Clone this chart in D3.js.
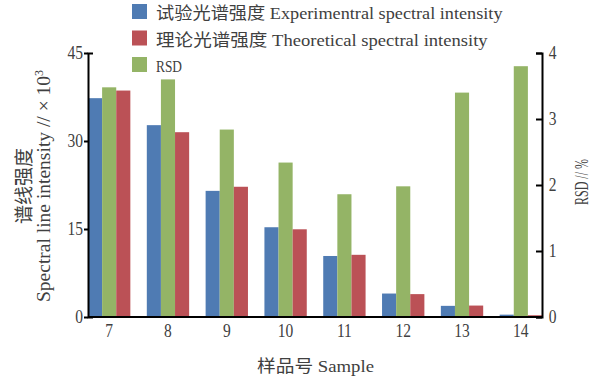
<!DOCTYPE html>
<html>
<head>
<meta charset="utf-8">
<script src="https://cdn.jsdelivr.net/npm/d3@7"></script>
<style>
  body { margin: 0; background: #fff; }
  svg { display: block; }
</style>
</head>
<body>
<svg id="chart" width="600" height="377"></svg>
<script>
// Sample numbers on the x axis
const samples = ["7", "8", "9", "10", "11", "12", "13", "14"];
// Spectral line intensity, ×10^3
const experimental = [37.3, 32.7, 21.5, 15.3, 10.4, 4.0, 1.9, 0.4];
const theoretical  = [38.6, 31.5, 22.2, 14.95, 10.6, 3.9, 1.95, 0.3];
// Relative standard deviation, %
const rsd = [3.48, 3.60, 2.84, 2.34, 1.86, 1.98, 3.40, 3.80];
// Axis ticks
const leftTicks = [0, 15, 30, 45];
const rightTicks = [0, 1, 2, 3, 4];
// Legend entries (legend order) and bar order within a group
const legendLabels = [
  "试验光谱强度 Experimentral spectral intensity",
  "理论光谱强度 Theoretical spectral intensity",
  "RSD"
];
const legendKeys = ["exp", "theo", "rsd"];
const groupOrder = ["exp", "rsd", "theo"];

const colors = { exp: "#4f7bb3", theo: "#bb5156", rsd: "#94b466" };
const FONT = '"Liberation Serif", "Noto Sans CJK SC", serif';
const TEXT = "#404040";

const svg = d3.select("#chart");

const x = d3.scaleBand().domain(samples).range([88, 542]).paddingInner(0.28).paddingOuter(0);
const inner = d3.scaleBand().domain(groupOrder).range([0, x.bandwidth()]).padding(0);
const yL = d3.scaleLinear().domain([0, 45]).range([317, 53]);
const yR = d3.scaleLinear().domain([0, 4]).range([317, 53]);

// Flatten into bar records
const bars = [];
samples.forEach((s, i) => {
  bars.push({ s, key: "exp", v: experimental[i], y: yL });
  bars.push({ s, key: "rsd", v: rsd[i], y: yR });
  bars.push({ s, key: "theo", v: theoretical[i], y: yL });
});

svg.append("g").selectAll("rect").data(bars).join("rect")
  .attr("x", d => x(d.s) + inner(d.key))
  .attr("width", inner.bandwidth())
  .attr("y", d => d.y(d.v))
  .attr("height", d => d.y(0) - d.y(d.v))
  .attr("fill", d => colors[d.key]);

// Monospace-style width: full-width CJK, half-width Latin
function monoWidth(str, em) {
  let w = 0;
  for (const ch of str) w += /[\u3000-\u9fff]/.test(ch) ? em : em * 0.447;
  return Math.max(w, 26);
}

function styleAxis(g) {
  g.select(".domain").attr("stroke", "#000").attr("stroke-width", 2);
  g.selectAll(".tick line").attr("stroke", "#000").attr("stroke-width", 2);
  g.selectAll(".tick text")
    .attr("fill", TEXT)
    .style("font-family", FONT)
    .style("font-size", "18.5px")
    .attr("transform", "scale(0.84,1)");
}

// Left axis
svg.append("g")
  .attr("transform", "translate(88,0)")
  .call(d3.axisLeft(yL).tickValues(leftTicks).tickFormat(d3.format("d"))
    .tickSizeInner(4).tickSizeOuter(-5).tickPadding(2))
  .call(styleAxis);

// Right axis
svg.append("g")
  .attr("transform", "translate(542,0)")
  .call(d3.axisRight(yR).tickValues(rightTicks).tickFormat(d3.format("d"))
    .tickSizeInner(-6).tickSizeOuter(-6).tickPadding(8))
  .call(styleAxis);

// Bottom axis
svg.append("g")
  .attr("transform", "translate(0,317)")
  .call(d3.axisBottom(x).tickSize(0).tickPadding(7))
  .call(styleAxis)
  .call(g => g.select(".domain").attr("d", "M88,0H542"));

// Left axis title (two lines)
const lt = svg.append("g").attr("transform", "translate(0,186) rotate(-90)");
lt.append("text")
  .attr("x", 0).attr("y", 30.5)
  .attr("text-anchor", "middle")
  .attr("fill", TEXT)
  .style("font-family", FONT).style("font-size", "19px")
  .text("谱线强度");
const l2 = lt.append("text")
  .attr("x", 0).attr("y", 50)
  .attr("text-anchor", "middle")
  .attr("fill", TEXT)
  .style("font-family", FONT).style("font-size", "19.5px");
l2.append("tspan").text("Spectral line intensity // × 10");
l2.append("tspan").attr("dy", "-0.55em").style("font-size", "12px").text("3");

// Right axis title
svg.append("g").attr("transform", "translate(588,182) rotate(-90)")
  .append("text")
  .attr("text-anchor", "middle")
  .attr("fill", TEXT)
  .style("font-family", FONT).style("font-size", "19px")
  .attr("textLength", 46).attr("lengthAdjust", "spacingAndGlyphs")
  .text("RSD // %");

// Bottom axis title
svg.append("text")
  .attr("x", 315.5).attr("y", 372)
  .attr("text-anchor", "middle")
  .attr("fill", TEXT)
  .style("font-family", FONT).style("font-size", "17px")
  .attr("textLength", 117).attr("lengthAdjust", "spacingAndGlyphs")
  .text("样品号 Sample");

// Legend
const leg = svg.append("g").selectAll("g").data(legendLabels).join("g")
  .attr("transform", (d, i) => `translate(132,${4 + i * 26.5})`);
leg.append("rect")
  .attr("width", 15).attr("height", 15)
  .attr("fill", (d, i) => colors[legendKeys[i]]);
leg.append("text")
  .attr("x", 24).attr("y", 15)
  .attr("fill", TEXT)
  .style("font-family", FONT).style("font-size", "17px")
  .attr("textLength", d => monoWidth(d, 16.7)).attr("lengthAdjust", "spacingAndGlyphs")
  .text(d => d);
</script>
</body>
</html>
